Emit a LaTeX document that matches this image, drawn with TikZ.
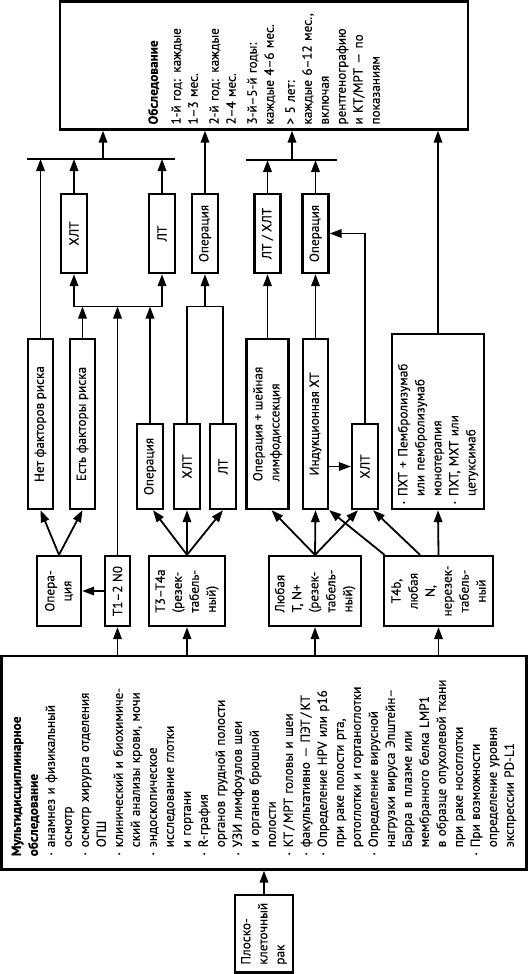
\documentclass[tikz,border=0pt]{standalone}
\usepackage{fontspec}
\setmainfont{PT Sans}[FakeBold=0.25]
\usetikzlibrary{arrows.meta}
\newcommand\bulx{\makebox[9pt][l]{\hspace{1pt}\raisebox{1.6pt}{\fontsize{6}{6}\selectfont\textbullet}}}
\newcommand\contl{\hspace*{9pt}}
\begin{document}
\begin{tikzpicture}[x=1pt,y=-1pt,
  bx/.style={draw, line width=2.3pt, rotate=90, inner sep=2pt,
    font=\fontsize{13.2}{17}\selectfont, align=center},
  arr/.style={line width=1.8pt, -{Triangle[length=12pt,width=8.5pt]}},
  ln/.style={line width=1.8pt}]
\fill[white] (0,0) rectangle (528,974);
\useasboundingbox (0,0) rectangle (528,974);

% top box
\node[bx, minimum width=128pt, minimum height=408pt, text width=118pt, inner xsep=5pt, align=left] (obs) at (264,65.5)
 {{\bfseries Обследование}\\[6pt]
  1-й год: каждые\\1–3 мес.\\[4pt]
  2-й год: каждые\\2–4 мес.\\[4pt]
  3-й–5-й годы:\\каждые 4–6 мес.\\[4pt]
  > 5 лет:\\каждые 6–12 мес.,\\включая\\рентгенографию\\и КТ/МРТ — по\\показаниям};

% level 1
\node[bx, minimum width=79pt, minimum height=26pt] (xlt1) at (74,233.5) {ХЛТ};
\node[bx, minimum width=79pt, minimum height=26pt] (lt1) at (162,233.5) {ЛТ};
\node[bx, minimum width=79pt, minimum height=26pt] (op1) at (205,233.5) {Операция};
\node[bx, minimum width=79pt, minimum height=26pt] (ltxlt) at (267.5,233.5) {ЛТ / ХЛТ};
\node[bx, minimum width=79pt, minimum height=26pt] (op2) at (315.5,233.5) {Операция};

% level 2
\node[bx, minimum width=170pt, minimum height=25pt] (net) at (40.5,424) {Нет факторов риска};
\node[bx, minimum width=170pt, minimum height=25pt] (est) at (82.5,424) {Есть факторы риска};
\node[bx, minimum width=85pt, minimum height=26pt] (op3) at (150,466.5) {Операция};
\node[bx, minimum width=85pt, minimum height=26pt] (xlt2) at (187,466.5) {ХЛТ};
\node[bx, minimum width=85pt, minimum height=26pt] (lt2) at (223,466.5) {ЛТ};
\node[bx, minimum width=170pt, minimum height=42pt, align=left] (opld) at (267.5,424) {Операция + шейная\\лимфодиссекция};
\node[bx, minimum width=170pt, minimum height=25pt] (ind) at (315.5,424) {Индукционная ХТ};
\node[bx, minimum width=85pt, minimum height=26pt] (xlt3) at (365,466.5) {ХЛТ};
\node[bx, minimum width=175pt, minimum height=92pt, text width=167pt, inner xsep=4pt, align=left] (pxt) at (438,421.5)
 {\bulx ПХТ + Пембролизумаб\\\contl или пембролизумаб\\\contl монотерапия\\\bulx ПХТ, МХТ или\\\contl цетуксимаб};

% level 3
\node[bx, minimum width=70pt, minimum height=44pt] (op4) at (59,591) {Опера-\\ция};
\node[bx, minimum width=70pt, minimum height=25pt] (t12) at (117.5,591) {T1–2 N0};
\node[bx, minimum width=70pt, minimum height=76pt, align=left] (t34) at (187,591) {T3–T4a\\(резек-\\табель-\\ный)};
\node[bx, minimum width=70pt, minimum height=92pt, align=left] (lub) at (315,591) {Любая\\T, N+\\(резек-\\табель-\\ный)};
\node[bx, minimum width=70pt, minimum height=109pt] (t4b) at (438.5,591) {T4b,\\любая\\N,\\нерезек-\\табель-\\ный};

% big box
\node[bx, minimum width=213.5pt, minimum height=525pt, text width=187pt, inner xsep=13pt, align=left] (big) at (264,762.75)
 {{\bfseries Мультидисциплинарное\\обследование}\\
  \bulx анамнез и физикальный\\\contl осмотр\\
  \bulx осмотр хирурга отделения\\\contl ОГШ\\
  \bulx клинический и биохимиче-\\\contl ский анализы крови, мочи\\
  \bulx эндоскопическое\\\contl исследование глотки\\\contl и гортани\\
  \bulx R-графия\\\contl органов грудной полости\\
  \bulx УЗИ лимфоузлов шеи\\\contl и органов брюшной\\\contl полости\\
  \bulx КТ\,/\,МРТ головы и шеи\\
  \bulx факультативно — ПЭТ\,/\,КТ\\
  \bulx Определение HPV или p16\\\contl при раке полости рта,\\\contl ротоглотки и гортаноглотки\\
  \bulx Определение вирусной\\\contl нагрузки вируса Эпштейн–\\\contl Барра в плазме или\\\contl мембранного белка LMP1\\\contl в образце опухолевой ткани\\\contl при раке носоглотки\\
  \bulx При возможности\\\contl определение уровня\\\contl экспрессии PD-L1};

\node[bx, minimum width=77.5pt, minimum height=58pt, align=left] (plo) at (264,933.75) {Плоско-\\клеточный\\рак};

% bars
\coordinate (b1w) at (27,159); \coordinate (b1e) at (175,159); \coordinate (b1m) at (103,159);
\coordinate (b2w) at (246,160); \coordinate (b2e) at (337,160); \coordinate (b2m) at (292,160);
\coordinate (b3w) at (74,306.5); \coordinate (b3e) at (162,306.5);
\coordinate (b4m) at (205,306.5);
\draw[ln] (b1w) -- (b1e);
\draw[ln] (b2w) -- (b2e);
\draw[ln] (b3w) -- (b3e);

% connectors
\draw[arr] (plo) -- (big);
\draw[arr] (big.east -| t12) -- (t12);
\draw[arr] (big.east -| t34) -- (t34);
\draw[arr] (big.east -| lub) -- (lub);
\draw[arr] (big.east -| t4b) -- (t4b);

\draw[arr] (t12) -- (op4);
\draw[arr] (op4.east) -- (net.west);
\draw[arr] (op4.east) -- (est.west);
\draw[arr] (t34.east) -- ([xshift=3pt]op3.west);
\draw[arr] (t34.east) -- (xlt2.west);
\draw[arr] (t34.east) -- (lt2.west);
\draw[arr] (lub.east) -- ([xshift=4pt]opld.west);
\draw[arr] (lub.east) -- (ind.west);
\draw[arr] (lub.east) -- ([xshift=-7pt]xlt3.west);
\draw[arr] ([xshift=-54pt]t4b.east) -- (ind.south west);
\draw[arr] ([xshift=-18.5pt]t4b.east) -- ([xshift=8pt]xlt3.west);
\draw[arr] (t4b.east) -- (pxt.west);

\draw[arr] (net.east) -- (net.east |- b1w);
\draw[arr] (est.east) -- (est.east |- b3w);
\draw[arr] (t12.east) -- (t12.east |- b3w);
\draw[arr] (op3.east) -- (op3.east |- b3w);
\draw[arr] (b3w) -- (xlt1);
\draw[arr] (b3e) -- (lt1);
\draw[ln] (xlt2.east) |- (b4m) -| (lt2.east);
\draw[arr] (b4m) -- (op1);
\draw[arr] (opld.east) -- (ltxlt);
\draw[arr] (ind.east) -- (op2);
\draw[arr] (ind.south |- xlt3) -- (xlt3);
\draw[arr] (xlt3.east) |- (op2);

\draw[arr] (xlt1.east) -- (xlt1.east |- b1w);
\draw[arr] (lt1.east) -- (lt1.east |- b1w);
\draw[arr] (ltxlt.east) -- (ltxlt.east |- b2w);
\draw[arr] (op2.east) -- (op2.east |- b2w);

\draw[arr] (b1m) -- (b1m |- obs.west);
\draw[arr] (b2m) -- (b2m |- obs.west);
\draw[arr] (op1.east) -- (op1.east |- obs.west);
\draw[arr] (pxt.east) -- (pxt.east |- obs.west);
\end{tikzpicture}
\end{document}
